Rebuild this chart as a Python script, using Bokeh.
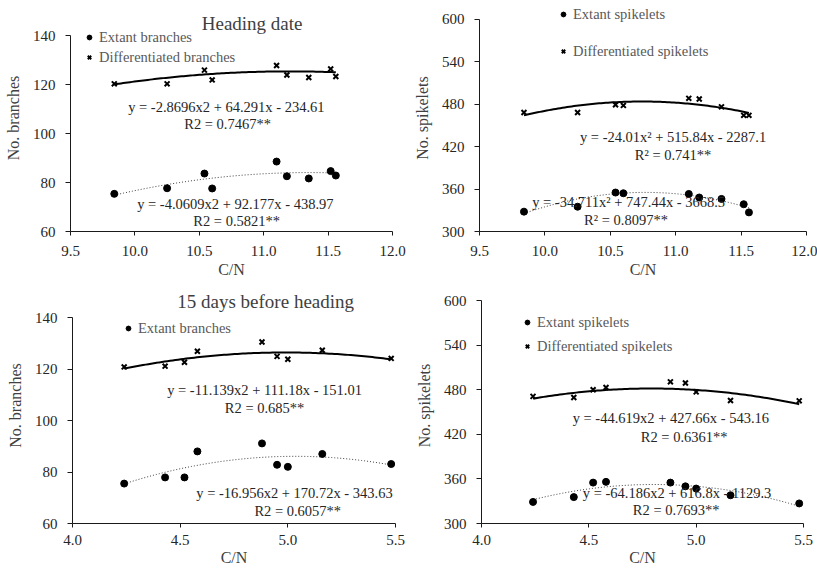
import numpy as np
from bokeh.plotting import figure
from bokeh.layouts import column, row
from bokeh.models import Range1d, FixedTicker, Legend, LegendItem, Label
from bokeh.embed import file_html
from bokeh.resources import INLINE

# ---------------- data ----------------
cn_heading = [9.84, 10.25, 10.54, 10.60, 11.10, 11.18, 11.35, 11.52, 11.56]
cn_15d = [4.24, 4.43, 4.52, 4.58, 4.88, 4.95, 5.00, 5.16, 5.48]

branches_extant_heading = [75.4, 77.7, 83.7, 77.6, 88.6, 82.6, 81.7, 84.7, 82.9]
branches_diff_heading = [120.4, 120.4, 126.0, 122.0, 127.9, 124.0, 123.0, 126.5, 123.4]
spikelets_extant_heading = [328, 335, 355, 354, 353, 348, 346, 338.5, 327]
spikelets_diff_heading = [468, 468, 479, 478, 488, 487, 476, 464, 464]

branches_extant_15d = [75.5, 77.9, 77.9, 88.0, 91.1, 82.8, 82.0, 87.0, 83.1]
branches_diff_15d = [120.8, 121.1, 122.6, 126.9, 130.5, 124.9, 123.8, 127.3, 124.1]
spikelets_extant_15d = [329, 335.5, 355, 356, 355, 350, 347, 338, 327]
spikelets_diff_15d = [471, 469.5, 480, 483, 490.6, 489, 477, 465.5, 465]

# printed trendline coefficients (a, b, c) of y = a x^2 + b x + c
fit_be_heading = [-4.0609, 92.177, -438.97]
fit_bd_heading = [-2.8696, 64.291, -234.61]
fit_se_heading = [-34.711, 747.44, -3668.5]
fit_sd_heading = [-24.01, 515.84, -2287.1]
fit_be_15d = [-16.956, 170.72, -343.63]
fit_bd_15d = [-11.139, 111.18, -151.01]
fit_se_15d = [-64.186, 616.8, -1129.3]
fit_sd_15d = [-44.619, 427.66, -543.16]

eq_be_heading = ["y = -4.0609x2 + 92.177x - 438.97", "R2 = 0.5821**"]
eq_bd_heading = ["y = -2.8696x2 + 64.291x - 234.61", "R2 = 0.7467**"]
eq_se_heading = ["y = -34.711x\u00b2 + 747.44x - 3668.5", "R\u00b2 = 0.8097**"]
eq_sd_heading = ["y = -24.01x\u00b2 + 515.84x - 2287.1", "R\u00b2 = 0.741**"]
eq_be_15d = ["y = -16.956x2 + 170.72x - 343.63", "R2 = 0.6057**"]
eq_bd_15d = ["y = -11.139x2 + 111.18x - 151.01", "R2 = 0.685**"]
eq_se_15d = ["y = -64.186x2 + 616.8x - 1129.3", "R2 = 0.7693**"]
eq_sd_15d = ["y = -44.619x2 + 427.66x - 543.16", "R2 = 0.6361**"]

x_ticks_heading = [9.5, 10.0, 10.5, 11.0, 11.5, 12.0]
x_labels_heading = ["9.5", "10.0", "10.5", "11.0", "11.5", "12.0"]
x_ticks_15d = [4.0, 4.5, 5.0, 5.5]
x_labels_15d = ["4.0", "4.5", "5.0", "5.5"]
y_ticks_branches = [60, 80, 100, 120, 140]
y_ticks_spikelets = [300, 360, 420, 480, 540, 600]

FONT = "Liberation Serif"


def make_panel(w, h, bl, fw, bb, xr, ybounds, yspan_px, xt, xl, yt, ylabel,
               cn, ext, dif, fit_e, fit_d, eq_e, eq_d, eq_pos,
               legend_labels, legend_loc, legend_spacing, xtick_standoff,
               xlab_standoff, title=None):
    fh = h - bb
    y_end = ybounds[0] + fh * (ybounds[1] - ybounds[0]) / yspan_px
    p = figure(width=w, height=h, output_backend="svg", toolbar_location=None,
               x_range=Range1d(*xr), y_range=Range1d(ybounds[0], y_end),
               min_border_left=bl, min_border_right=w - bl - fw,
               min_border_top=0, min_border_bottom=bb,
               background_fill_color="white", border_fill_color="white")
    p.outline_line_color = None
    p.grid.visible = False

    p.xaxis.ticker = FixedTicker(ticks=xt)
    p.xaxis.major_label_overrides = {t: l for t, l in zip(xt, xl)}
    p.yaxis.ticker = FixedTicker(ticks=yt)
    p.yaxis.bounds = ybounds
    for ax in (p.xaxis, p.yaxis):
        ax.axis_line_color = "#1a1a1a"
        ax.major_tick_line_color = "#1a1a1a"
        ax.minor_tick_line_color = None
        ax.major_tick_in = 0
        ax.major_label_text_font = FONT
        ax.major_label_text_font_size = "15px"
        ax.major_label_text_color = "#262626"
        ax.axis_label_text_font = FONT
        ax.axis_label_text_font_size = "16px"
        ax.axis_label_text_font_style = "normal"
        ax.axis_label_text_color = "#404040"
    p.xaxis.major_tick_out = 4
    p.yaxis.major_tick_out = 5
    p.xaxis.major_label_standoff = xtick_standoff
    p.yaxis.major_label_standoff = 10
    p.xaxis.axis_label = "C/N"
    p.xaxis.axis_label_standoff = xlab_standoff
    p.yaxis.axis_label = ylabel
    p.yaxis.axis_label_standoff = 8

    # trend lines from printed coefficients
    xs = np.linspace(min(cn), max(cn), 100)
    ye = np.polyval(fit_e, xs)
    yd = np.polyval(fit_d, xs)
    p.line(xs, yd, line_color="#000000", line_width=2)
    p.line(xs, ye, line_color="#404040", line_width=1, line_dash="1 2")

    r_e = p.scatter(cn, ext, marker="circle", size=7, fill_color="#000000",
                    line_color="#000000")
    r_d = p.scatter(cn, dif, marker="x", size=7, line_color="#000000",
                    line_width=2)

    # equations
    lines = [eq_d[0], eq_d[1], eq_e[0], eq_e[1]]
    for txt, (x, y) in zip(lines, eq_pos):
        p.add_layout(Label(x=x, y=y, text=txt, text_align="center",
                           text_baseline="middle", text_font=FONT,
                           text_font_size="14.5px", text_color="#262626"))

    items = [LegendItem(label=legend_labels[0], renderers=[r_e])]
    if len(legend_labels) > 1:
        items.append(LegendItem(label=legend_labels[1], renderers=[r_d]))
    lg = Legend(items=items, location=legend_loc, background_fill_alpha=0,
                border_line_alpha=0, padding=0, margin=0,
                spacing=legend_spacing, glyph_width=12, glyph_height=12,
                label_height=20, label_standoff=4,
                label_text_font=FONT, label_text_font_size="14.5px",
                label_text_color="#595959")
    p.add_layout(lg)

    if title is not None:
        p.add_layout(Label(x=title[1], y=title[2], text=title[0],
                           text_align="center", text_baseline="middle",
                           text_font=FONT, text_font_size="19px",
                           text_color="#404040"))
    return p


p1 = make_panel(408, 283, 70, 322, 52, (9.5, 12.0), (60, 140), 195.6,
                x_ticks_heading, x_labels_heading, y_ticks_branches, "No.  branches",
                cn_heading, branches_extant_heading, branches_diff_heading,
                fit_be_heading, fit_bd_heading, eq_be_heading, eq_bd_heading,
                [(10.71, 110.8), (10.72, 104.0), (10.78, 71.2), (10.79, 64.3)],
                ["Extant branches", "Differentiated branches"], (13, 164), 0, 10, 2,
                title=("Heading date", 10.91, 145.2))

p2 = make_panel(409, 283, 71, 327, 51, (9.5, 12.0), (300, 600), 213.4,
                x_ticks_heading, x_labels_heading, y_ticks_spikelets, "No.  spikelets",
                cn_heading, spikelets_extant_heading, spikelets_diff_heading,
                fit_se_heading, fit_sd_heading, eq_se_heading, eq_sd_heading,
                [(10.98, 433.5), (10.98, 407.8), (10.64, 342.2), (10.62, 316.4)],
                ["Extant spikelets", "Differentiated spikelets"], (78, 170), 17, 10, 2)

p3 = make_panel(408, 288, 72, 323, 48, (4.0, 5.5), (60, 140), 206.0,
                x_ticks_15d, x_labels_15d, y_ticks_branches, "No.  branches",
                cn_15d, branches_extant_15d, branches_diff_15d,
                fit_be_15d, fit_bd_15d, eq_be_15d, eq_bd_15d,
                [(4.892, 111.8), (4.892, 104.7), (5.031, 71.7), (5.046, 64.9)],
                ["Extant branches"], (50, 185), 0, 7, 1,
                title=("15 days before heading", 4.897, 146.1))

p4 = make_panel(409, 288, 73, 322, 48, (4.0, 5.5), (300, 600), 223.0,
                x_ticks_15d, x_labels_15d, y_ticks_spikelets, "No.  spikelets",
                cn_15d, spikelets_extant_15d, spikelets_diff_15d,
                fit_se_15d, fit_sd_15d, eq_se_15d, eq_sd_15d,
                [(4.882, 441.8), (4.944, 417.0), (4.911, 340.9), (4.907, 317.5)],
                ["Extant spikelets", "Differentiated spikelets"], (40, 167), 4, 7, 1)

layout = column(row(p1, p2), row(p3, p4))
open("out.html", "w").write(file_html(layout, INLINE))
